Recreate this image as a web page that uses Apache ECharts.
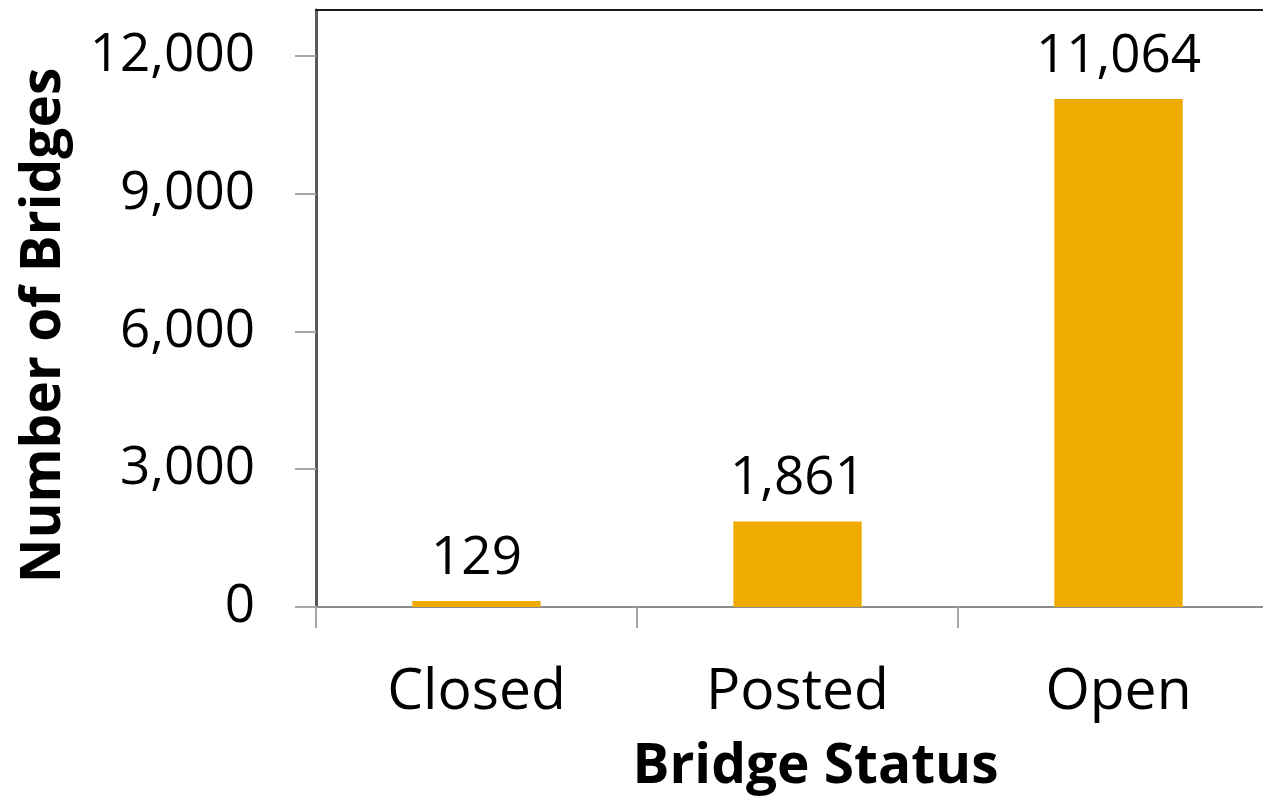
<!DOCTYPE html>
<html>
<head>
<meta charset="utf-8">
<script src="https://cdn.jsdelivr.net/npm/echarts@6/dist/echarts.min.js"></script>
<style>
  html, body { margin: 0; padding: 0; background: #fff; }
  #chart { width: 1263px; height: 796px; }
</style>
</head>
<body>
<div id="chart"></div>
<script>
const statuses = ['Closed', 'Posted', 'Open']
const bridgeCounts = [129, 1861, 11064]
const yTicks = [0, 3000, 6000, 9000, 12000]

const font = '"Open Sans", "Noto Sans", sans-serif'
const fmt = v => Number(v).toLocaleString('en-US')

let chart = echarts.init(document.getElementById('chart'))
let options = {
  animation: false,
  textStyle: { fontFamily: font },
  // plot runs past the right edge of the canvas, as in the original
  grid: {
    left: 316,
    top: 10,
    width: 963,
    bottom: 189,
    outerBoundsMode: 'none',
  },
  xAxis: [
    {
      type: 'category',
      data: statuses,
      name: 'Bridge Status',
      nameLocation: 'middle',
      nameGap: 133,
      nameTextStyle: {
        fontFamily: font,
        fontSize: 55,
        fontWeight: 'bold',
        color: '#000',
        padding: [0, 0, 0, 36],
      },
      axisLine: { lineStyle: { color: '#8c8c8c', width: 2 } },
      axisTick: { show: true, length: 21, lineStyle: { color: '#a6a6a6', width: 2 } },
      axisLabel: {
        fontFamily: font,
        fontSize: 57,
        color: '#000',
        margin: 57,
      },
    },
    {
      type: 'category',
      position: 'top',
      data: statuses,
      axisLine: { lineStyle: { color: '#1a1a1a', width: 2 } },
      axisTick: { show: false },
      axisLabel: { show: false },
    },
  ],
  yAxis: {
    type: 'value',
    min: 0,
    max: 13000,
    interval: 3000,
    name: 'Number of Bridges',
    nameLocation: 'middle',
    nameGap: 244,
    nameRotate: 90,
    nameTextStyle: {
      fontFamily: font,
      fontSize: 55,
      fontWeight: 'bold',
      color: '#000',
      padding: [0, 34, 0, 0],
    },
    splitLine: { show: false },
    axisLine: { show: true, lineStyle: { color: '#595959', width: 3 } },
    axisTick: {
      show: true,
      length: 21,
      customValues: yTicks,
      lineStyle: { color: '#a6a6a6', width: 2 },
    },
    axisLabel: {
      fontFamily: font,
      fontSize: 53,
      color: '#000',
      margin: 61,
      customValues: yTicks,
      formatter: fmt,
    },
  },
  series: [
    {
      type: 'bar',
      data: bridgeCounts,
      barWidth: '40%',
      itemStyle: { color: '#f0ab00' },
      label: {
        show: true,
        position: 'top',
        distance: 16,
        fontFamily: font,
        fontSize: 53,
        color: '#000',
        formatter: p => fmt(p.value),
      },
    },
  ],
}
chart.setOption(options)
</script>
</body>
</html>
